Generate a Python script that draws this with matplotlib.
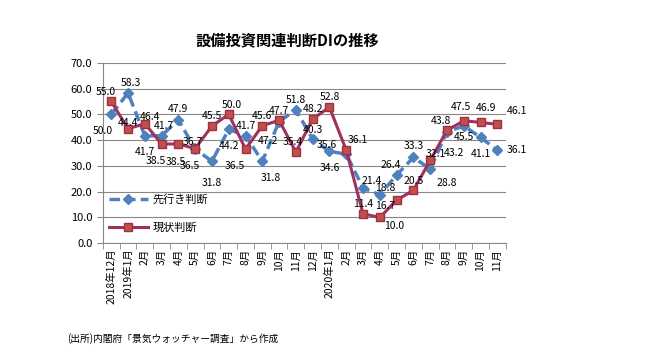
import matplotlib
matplotlib.use("Agg")
import matplotlib.pyplot as plt
import numpy as np

plt.rcParams['font.family'] = ['Noto Sans CJK JP', 'DejaVu Sans']

months = ["2018年12月", "2019年1月", "2月", "3月", "4月", "5月", "6月", "7月", "8月", "9月",
          "10月", "11月", "12月", "2020年1月", "2月", "3月", "4月", "5月", "6月", "7月",
          "8月", "9月", "10月", "11月"]
sakiyuki = [50.0, 58.3, 41.7, 41.7, 47.9, 36.5, 31.8, 44.2, 41.7, 31.8, 47.2, 51.8,
            40.3, 35.6, 34.6, 21.4, 18.8, 26.4, 33.3, 28.8, 43.2, 45.5, 41.1, 36.1]
genjo = [55.0, 44.4, 46.4, 38.5, 38.5, 36.7, 45.5, 50.0, 36.5, 45.6, 47.7, 35.4,
         48.2, 52.8, 36.1, 11.4, 10.0, 16.7, 20.5, 32.1, 43.8, 47.5, 46.9, 46.1]
yticks = [0, 10, 20, 30, 40, 50, 60, 70]

# label offsets (points)
blue_off = [(-6, -12), (2, 7), (0, -12), (2, 7), (0, 8), (-4, -12), (0, -16), (0, -12),
            (0, 7), (6, -12), (-8, -14), (0, 7), (0, 7), (-2, 5), (-12, -10), (6, 5),
            (4, 5), (-4, 7), (0, 8), (12, -10), (5, -15), (0, -8), (0, -12), (14, 0)]
red_off = [(-4, 7), (0, 4), (4, 5), (-4, -12), (-2, -13), (-2, 5), (0, 7), (2, 7),
           (-8, -12), (0, 7), (0, 7), (-2, 7), (0, 7), (0, 7), (8, 7), (0, 7),
           (10, -6), (-8, -4), (0, 7), (4, 5), (-4, 7), (-2, 10), (4, 10), (14, 10)]

fig = plt.figure(figsize=(6.68, 3.55), dpi=100)
ax = fig.add_axes([0.154, 0.315, 0.603, 0.508])
x = np.arange(len(months))

blue = '#4F81BD'
ax.plot(x, sakiyuki, color=blue, lw=2.5, ls=(0, (3, 1.5)), marker='D', ms=5,
        mfc=blue, mec=blue, label='先行き判断', zorder=3)
ax.plot(x, genjo, color='#A03060', lw=2.2, marker='s', ms=6,
        mfc='#C0504D', mec='#A03040', label='現状判断', zorder=4)

for i in range(len(x)):
    ax.annotate(f"{sakiyuki[i]:.1f}", (x[i], sakiyuki[i]), xytext=blue_off[i],
                textcoords='offset points', ha='center', va='center', fontsize=7.5, zorder=5)
    ax.annotate(f"{genjo[i]:.1f}", (x[i], genjo[i]), xytext=red_off[i],
                textcoords='offset points', ha='center', va='center', fontsize=7.5, zorder=5)

ax.set_xlim(-0.5, len(months) - 0.5)
ax.set_ylim(0, 70)
ax.set_yticks(yticks)
ax.set_yticklabels([f"{v:.1f}" for v in yticks], fontsize=8)
ax.yaxis.grid(True, color='#888888', lw=0.8)
ax.set_axisbelow(True)
ax.set_xticks(x)
ax.set_xticklabels(months, rotation=90, fontsize=7.5, va='top')
ax.set_xticks(np.arange(-0.5, len(months), 1), minor=True)
ax.tick_params(axis='x', which='major', length=0, pad=4)
ax.tick_params(axis='x', which='minor', length=4, color='#888888')
ax.tick_params(axis='y', length=4, color='#888888')
for s in ['top', 'right']:
    ax.spines[s].set_visible(False)
ax.spines['left'].set_color('#888888')
ax.spines['bottom'].set_color('#888888')

leg = ax.legend(loc='lower left', bbox_to_anchor=(-0.01, 0.0), frameon=False, fontsize=8,
                handlelength=3.5, labelspacing=1.6, handletextpad=0.4)

fig.text(0.43, 0.885, '設備投資関連判断DIの推移', ha='center', va='center',
         fontsize=11, fontweight='bold')
fig.text(0.1, 0.045, '(出所)内閣府「景気ウォッチャー調査」から作成', ha='left', va='center',
         fontsize=7)

fig.savefig('out.png', dpi=100)
